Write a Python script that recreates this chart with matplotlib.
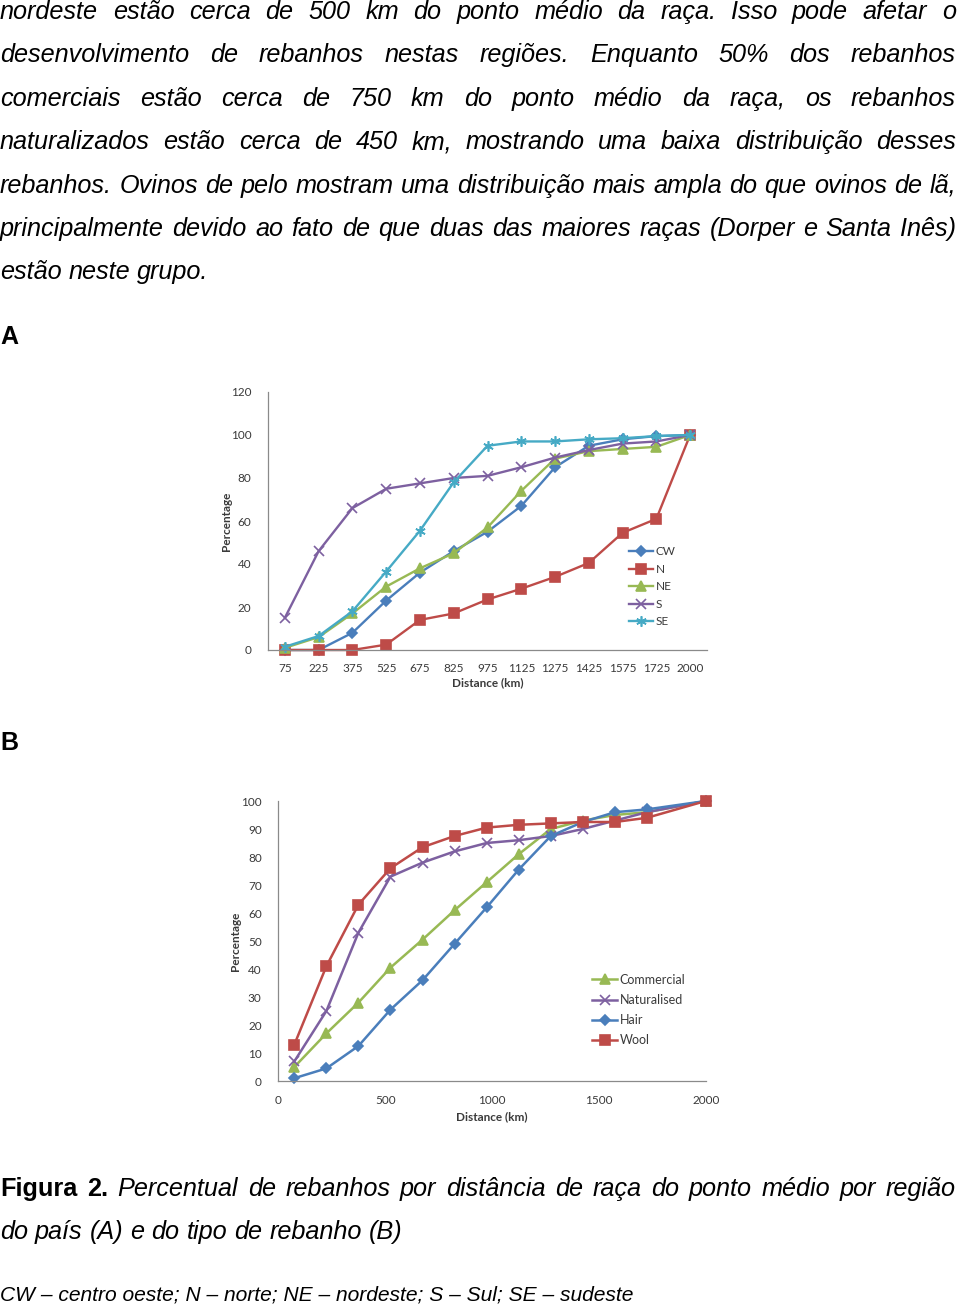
import matplotlib
matplotlib.use("Agg")
import matplotlib.pyplot as plt

W, H = 960, 1308

# ---- data: chart A (by region) ----
dist_labels_a = ["75", "225", "375", "525", "675", "825", "975", "1125",
                 "1275", "1425", "1575", "1725", "2000"]
cw = [0, 0, 8, 23, 36, 46, 55, 67, 85, 95, 98, 99.5, 100]
n_reg = [0, 0, 0, 2.5, 14, 17, 23.5, 28.5, 34, 40.5, 54.5, 61, 100]
ne = [1, 6, 17, 29.5, 38, 45, 57, 74, 89, 92.5, 93.5, 94.5, 100]
s_reg = [15, 46, 66, 75, 77.5, 80, 81, 85, 89.5, 93, 96, 97, 100]
se = [1.5, 6.5, 18, 36.5, 55.5, 78, 95, 97, 97, 98, 98.5, 99.5, 100]

# ---- data: chart B (by flock type) ----
dist_b = [75, 225, 375, 525, 675, 825, 975, 1125, 1275, 1425, 1575, 1725, 2000]
commercial = [5, 17, 28, 40.5, 50.5, 61, 71, 81, 90, 93, 95, 96, 100]
naturalised = [7, 25, 53, 73, 78, 82, 85, 86, 87.5, 90, 93, 96, 100]
hair = [1, 4.5, 12.5, 25.5, 36, 49, 62, 75.5, 87.5, 92.5, 96, 97, 100]
wool = [13, 41, 63, 76, 83.5, 87.5, 90.5, 91.5, 92, 92.5, 92.5, 94, 100]

BLUE, RED, GREEN, PURPLE, CYAN = "#4A7EBB", "#BE4B48", "#98B954", "#7D60A0", "#46AAC5"
TXT = "#3a3a3a"
AXC = "#8a8a8a"
BODY = "Liberation Sans"
CHART = "Lato"
FS = 18.2

fig = plt.figure(figsize=(W / 100, H / 100), dpi=100)


def px(x, y):
    return x / W, 1 - y / H


def line_words(y, words, x0=0, x1=956, justify=True, size=FS):
    # words: list of (text, weight, style); spread to full width when justified
    renderer = fig.canvas.get_renderer()
    texts = []
    for w, weight, style in words:
        t = fig.text(0, 1 - y / H, w, fontsize=size, family=BODY,
                     fontweight=weight, fontstyle=style, va="center", ha="left")
        texts.append(t)
    widths = [t.get_window_extent(renderer).width for t in texts]
    if justify and len(texts) > 1:
        gap = (x1 - x0 - sum(widths)) / (len(texts) - 1)
    else:
        gap = size * 100 / 72 * 0.28
    x = x0
    for t, w in zip(texts, widths):
        t.set_x(x / W)
        x += w + gap


def italic(s):
    return [(w, "normal", "italic") for w in s.split()]


body = [
    "nordeste estão cerca de 500 km do ponto médio da raça. Isso pode afetar o",
    "desenvolvimento de rebanhos nestas regiões. Enquanto 50% dos rebanhos",
    "comerciais estão cerca de 750 km do ponto médio da raça, os rebanhos",
    "naturalizados estão cerca de 450 km, mostrando uma baixa distribuição desses",
    "rebanhos. Ovinos de pelo mostram uma distribuição mais ampla do que ovinos de lã,",
    "principalmente devido ao fato de que duas das maiores raças (Dorper e Santa Inês)",
]
for i, ln in enumerate(body):
    line_words(12 + i * 43.4, italic(ln))
line_words(272, italic("estão neste grupo."), justify=False)

fig.text(*px(0, 337), "A", fontsize=18, family=BODY, fontweight="bold", va="center")
fig.text(*px(0, 743), "B", fontsize=18, family=BODY, fontweight="bold", va="center")

cap = [("Figura", "bold", "normal"), ("2.", "bold", "normal")] + italic(
    "Percentual de rebanhos por distância de raça do ponto médio por região")
line_words(1189, cap)
line_words(1232, italic("do país (A) e do tipo de rebanho (B)"), justify=False)
fig.text(*px(0, 1295), "CW – centro oeste; N – norte; NE – nordeste; S – Sul; SE – sudeste",
         fontsize=15.1, family=BODY, fontstyle="italic", va="center")


def style_axes(ax):
    for side in ["top", "right"]:
        ax.spines[side].set_visible(False)
    for side in ["left", "bottom"]:
        ax.spines[side].set_color(AXC)
        ax.spines[side].set_linewidth(0.9)
    ax.tick_params(length=0, labelsize=8.5, labelcolor=TXT)
    for lab in ax.get_xticklabels() + ax.get_yticklabels():
        lab.set_family(CHART)


# ---- chart A ----
axA = fig.add_axes([268 / W, 658 / H, 439 / W, 258 / H])
xa = range(len(dist_labels_a))
series_a = [
    ("CW", cw, BLUE, "D", 5),
    ("N", n_reg, RED, "s", 6.5),
    ("NE", ne, GREEN, "^", 7),
    ("S", s_reg, PURPLE, "x", 6.5),
    ("SE", se, CYAN, (6, 2, 0), 7.5),
]
for name, vals, col, mk, ms in series_a:
    axA.plot(xa, vals, color=col, lw=1.7, marker=mk, ms=ms, mfc=col, mec=col,
             mew=1.2, label=name, clip_on=False)
axA.set_xlim(-0.5, 12.5)
axA.set_ylim(0, 120)
axA.set_yticks(range(0, 121, 20))
axA.set_xticks(list(xa))
axA.set_xticklabels(dist_labels_a)
axA.tick_params(axis="x", pad=9)
axA.tick_params(axis="y", pad=12)
style_axes(axA)
axA.set_xlabel("Distance (km)", family=CHART, fontweight="bold", fontsize=8.5,
               color=TXT, labelpad=3)
axA.set_ylabel("Percentage", family=CHART, fontweight="bold", fontsize=8.5,
               color=TXT, labelpad=-1)
legA = axA.legend(loc="upper left", bbox_to_anchor=(0.81, 0.425), frameon=False,
                  handlelength=2.0, handletextpad=0.2, labelspacing=0.55,
                  borderpad=0, prop={"family": CHART, "size": 8.5})
for t in legA.get_texts():
    t.set_color(TXT)

# ---- chart B ----
axB = fig.add_axes([278.3 / W, 227 / H, 427.4 / W, 280 / H])
series_b = [
    ("Commercial", commercial, GREEN, "^", 7),
    ("Naturalised", naturalised, PURPLE, "x", 7),
    ("Hair", hair, BLUE, "D", 5.5),
    ("Wool", wool, RED, "s", 7.5),
]
for name, vals, col, mk, ms in series_b:
    axB.plot(dist_b, vals, color=col, lw=1.8, marker=mk, ms=ms, mfc=col, mec=col,
             mew=1.2, label=name, clip_on=False)
axB.set_xlim(0, 2000)
axB.set_ylim(0, 100)
axB.set_yticks(range(0, 101, 10))
axB.set_xticks(range(0, 2001, 500))
axB.tick_params(axis="x", pad=10)
axB.tick_params(axis="y", pad=12)
style_axes(axB)
axB.set_xlabel("Distance (km)", family=CHART, fontweight="bold", fontsize=8.5,
               color=TXT, labelpad=4)
axB.set_ylabel("Percentage", family=CHART, fontweight="bold", fontsize=8.5,
               color=TXT, labelpad=0)
legB = axB.legend(loc="upper left", bbox_to_anchor=(0.72, 0.405), frameon=False,
                  handlelength=2.0, handletextpad=0.2, labelspacing=0.65,
                  borderpad=0, prop={"family": CHART, "size": 9})
for t in legB.get_texts():
    t.set_color(TXT)

fig.savefig("out.png", dpi=100)
